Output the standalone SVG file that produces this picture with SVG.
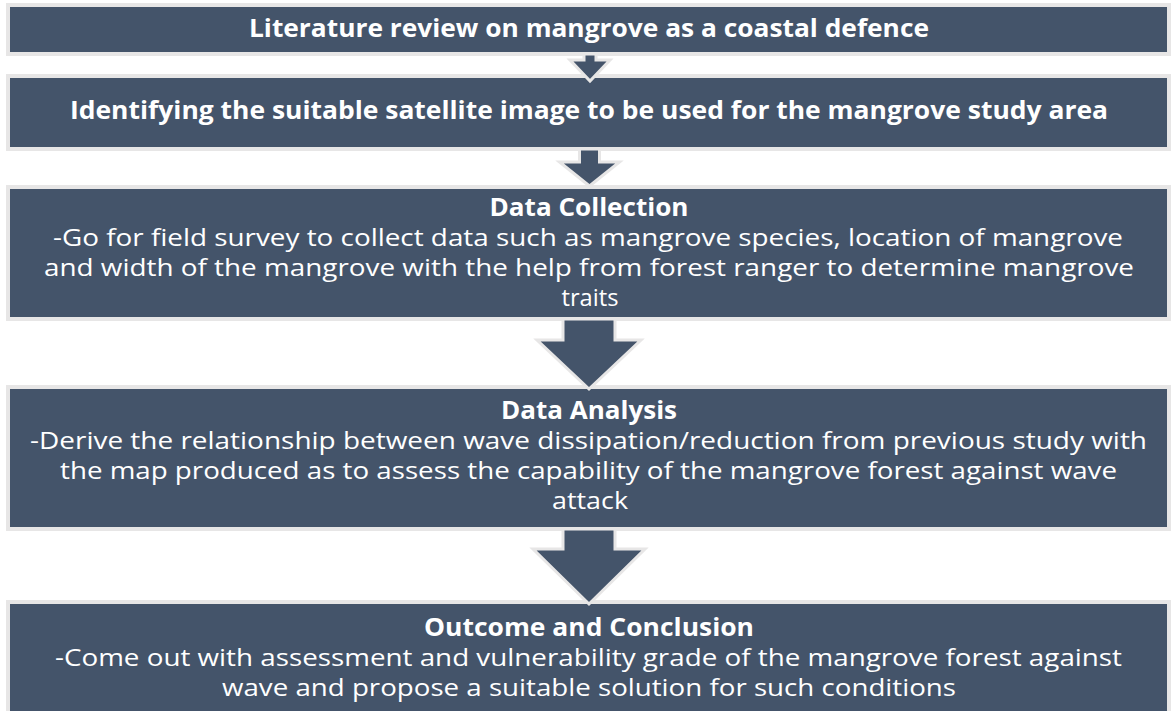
<svg xmlns="http://www.w3.org/2000/svg" width="1176" height="711" viewBox="0 0 1176 711">
  <style>
    .box { fill: #44546a; stroke: #e7e6e6; stroke-width: 4; }
    .arrow { fill: #44546a; stroke: #e7e6e6; stroke-width: 3; stroke-linejoin: miter; }
    .title { font-family: "Open Sans", Lato, "Liberation Sans", sans-serif; font-weight: bold; font-size: 25px; fill: #ffffff; text-anchor: middle; }
    .body { font-family: "Open Sans", Lato, "Liberation Sans", sans-serif; font-size: 23px; fill: #ffffff; text-anchor: middle; }
  </style>
  <rect width="1176" height="711" fill="#ffffff"/>

  <!-- process steps -->
  <g id="step-literature">
    <rect class="box" x="8" y="5" width="1161" height="49"/>
    <text class="title" x="589" y="37" textLength="680" lengthAdjust="spacingAndGlyphs">Literature review on mangrove as a coastal defence</text>
  </g>

  <g id="step-satellite">
    <rect class="box" x="8" y="76" width="1161" height="73"/>
    <text class="title" x="589" y="119" textLength="1038" lengthAdjust="spacingAndGlyphs">Identifying the suitable satellite image to be used for the mangrove study area</text>
  </g>

  <g id="step-collection">
    <rect class="box" x="8" y="187" width="1161" height="132"/>
    <text class="title" x="589" y="216" textLength="199" lengthAdjust="spacingAndGlyphs">Data Collection</text>
    <text class="body" x="588" y="246" textLength="1070" lengthAdjust="spacingAndGlyphs">-Go for field survey to collect data such as mangrove species, location of mangrove</text>
    <text class="body" x="589" y="276" textLength="1090" lengthAdjust="spacingAndGlyphs">and width of the mangrove with the help from forest ranger to determine mangrove</text>
    <text class="body" x="590" y="306" textLength="57" lengthAdjust="spacingAndGlyphs">traits</text>
  </g>

  <g id="step-analysis">
    <rect class="box" x="8" y="387" width="1161" height="142"/>
    <text class="title" x="589" y="419" textLength="176" lengthAdjust="spacingAndGlyphs">Data Analysis</text>
    <text class="body" x="588.5" y="449" textLength="1117" lengthAdjust="spacingAndGlyphs">-Derive the relationship between wave dissipation/reduction from previous study with</text>
    <text class="body" x="588.5" y="479" textLength="1057" lengthAdjust="spacingAndGlyphs">the map produced as to assess the capability of the mangrove forest against wave</text>
    <text class="body" x="590" y="509" textLength="76" lengthAdjust="spacingAndGlyphs">attack</text>
  </g>

  <g id="step-outcome">
    <rect class="box" x="8" y="602" width="1161" height="120"/>
    <text class="title" x="589" y="636" textLength="330" lengthAdjust="spacingAndGlyphs">Outcome and Conclusion</text>
    <text class="body" x="588.5" y="666" textLength="1067" lengthAdjust="spacingAndGlyphs">-Come out with assessment and vulnerability grade of the mangrove forest against</text>
    <text class="body" x="589" y="696" textLength="734" lengthAdjust="spacingAndGlyphs">wave and propose a suitable solution for such conditions</text>
  </g>

  <!-- block arrows between steps -->
  <g id="connectors">
    <polygon class="arrow" points="584,54 596,54 596,60 610,60 590,81 570,60 584,60"/>
    <polygon class="arrow" points="579.5,149 599.5,149 599.5,162 619.5,162 589.5,186 559.5,162 579.5,162"/>
    <polygon class="arrow" points="563,319 615,319 615,340 641,340 589,389 537,340 563,340"/>
    <polygon class="arrow" points="563,529 615,529 615,549 645,549 589,604 533,549 563,549"/>
  </g>
</svg>
